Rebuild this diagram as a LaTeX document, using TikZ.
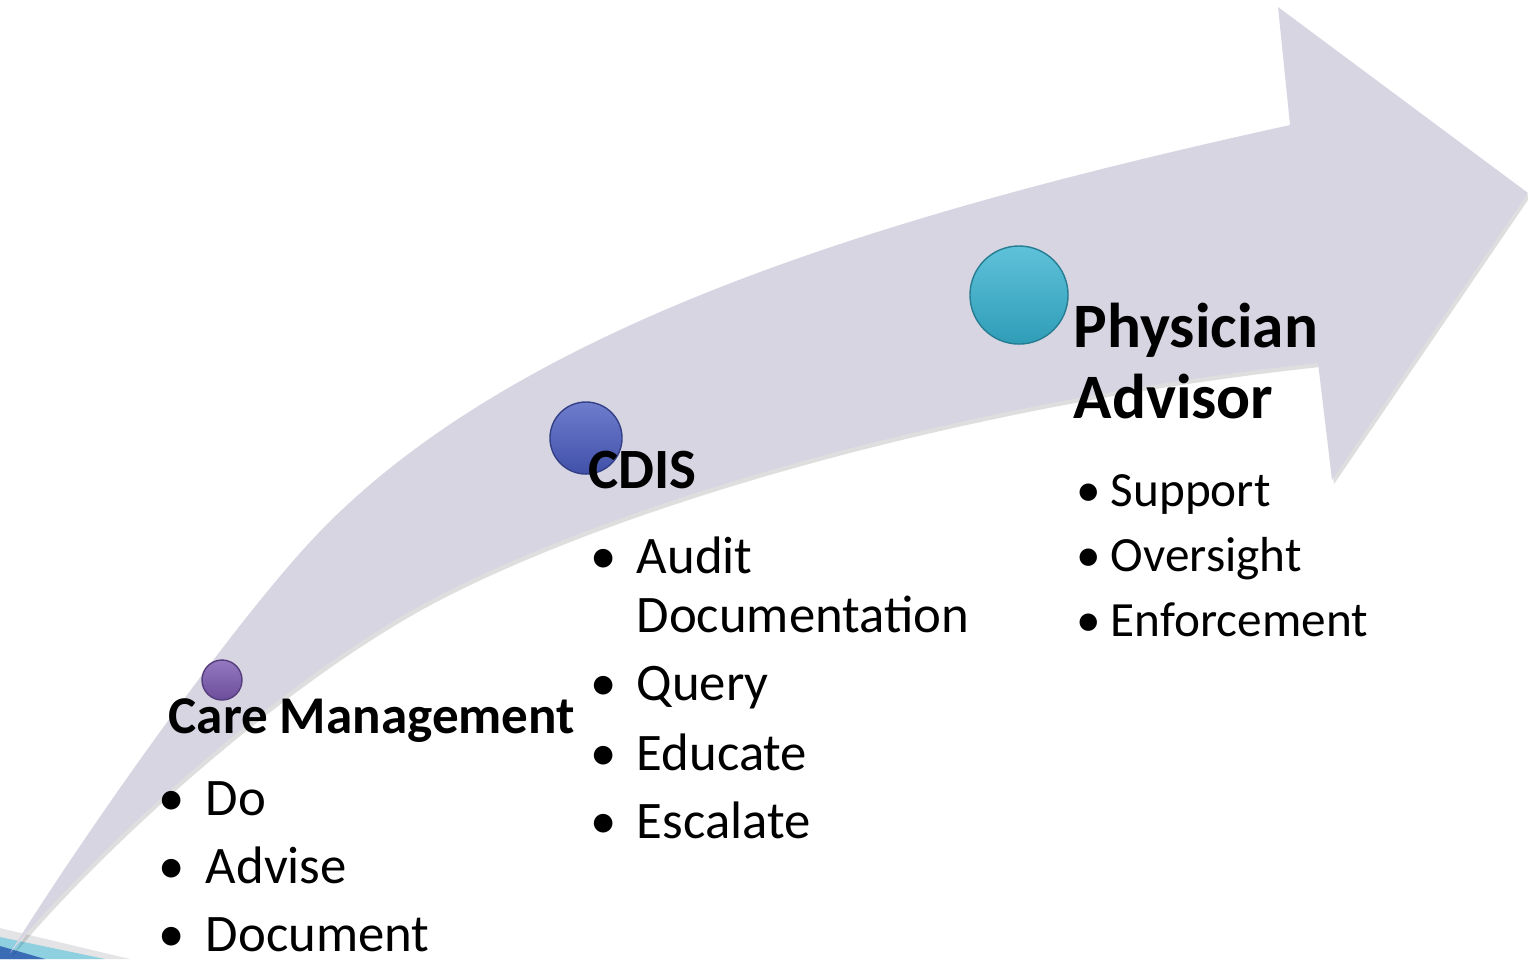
\documentclass[tikz,border=0pt]{standalone}
\usepackage{fontspec}
\setmainfont{Carlito}
\definecolor{arrowfill}{RGB}{216,213,227}
\definecolor{carecol}{RGB}{122,88,176}
\definecolor{cdiscol}{RGB}{74,92,192}
\definecolor{physcol}{RGB}{54,178,208}
\definecolor{bandgray}{RGB}{228,228,230}
\definecolor{bandcyan}{RGB}{142,207,224}
\definecolor{bandblue}{RGB}{58,107,181}
\newcommand{\bul}[1]{\makebox[#1][l]{\textbullet}}
\tikzset{
  ball/.style={circle,inner sep=0pt,draw=#1!70!black,line width=0.4pt,
    top color=#1!80!white,middle color=#1,bottom color=#1!88!black},
  head/.style={inner sep=0pt,anchor=base west},
  item/.style={inner sep=0pt,anchor=base west,font=\fontsize{15}{18}\selectfont}
}
\begin{document}
\begin{tikzpicture}[x=0.01cm,y=-0.01cm,line join=round]
\useasboundingbox (0,0) rectangle (1528,959);
% corner bands
\fill[bandgray] (0,928) -- (130,959) -- (0,959) -- cycle;
\fill[bandcyan] (0,937) -- (105,959) -- (0,959) -- cycle;
\fill[bandblue] (0,946) -- (45,959) -- (0,959) -- cycle;
% curved arrow
\fill[arrowfill,preaction={fill=black,opacity=0.13,transform canvas={shift={(2,4)}}}]
  (10,953) .. controls (90,825) and (220,643) .. (300,553)
  .. controls (500,327) and (890,213) .. (1290,125)
  -- (1278,7) -- (1528,193) -- (1332,480) -- (1318,363)
  .. controls (990,398) and (650,490) .. (450,590)
  .. controls (285,672) and (90,855) .. (10,953) -- cycle;
% balls
\node[ball=carecol,minimum size=0.4cm] (careball) at (222,680) {};
\node[ball=cdiscol,minimum size=0.72cm] (cdisball) at (586,438) {};
\node[ball=physcol,minimum size=0.98cm] (physball) at (1019,295) {};
% headings
\node[head,font=\fontsize{15.1}{18}\selectfont\bfseries] (care) at (168,733) {Care Management};
\node[head,font=\fontsize{16.2}{19}\selectfont\bfseries] (cdis) at (588,488) {CDIS};
\node[head,font=\fontsize{18}{21}\selectfont\bfseries] (phys) at (1073,347) {Physician};
\node[head,font=\fontsize{18}{21}\selectfont\bfseries] (advisor) at (1073,418) {Advisor};
% care management list
\node[item] (do) at (158,815) {\bul{13.4pt}Do};
\node[item] (advise) at (158,883) {\bul{13.4pt}Advise};
\node[item] (document) at (158,951) {\bul{13.4pt}Document};
% cdis list
\node[item] (audit) at (590,573) {\bul{13.1pt}Audit};
\node[item] (documentation) at (636,632) {Documentation};
\node[item] (query) at (590,700) {\bul{13.1pt}Query};
\node[item] (educate) at (590,770) {\bul{13.1pt}Educate};
\node[item] (escalate) at (590,838) {\bul{13.1pt}Escalate};
% physician advisor list
\node[item,font=\fontsize{14}{17}\selectfont] (support) at (1076,506) {\bul{9.7pt}Support};
\node[item,font=\fontsize{14}{17}\selectfont] (oversight) at (1076,571) {\bul{9.7pt}Oversight};
\node[item,font=\fontsize{14}{17}\selectfont] (enforcement) at (1076,636) {\bul{9.7pt}Enforcement};
\end{tikzpicture}
\end{document}
